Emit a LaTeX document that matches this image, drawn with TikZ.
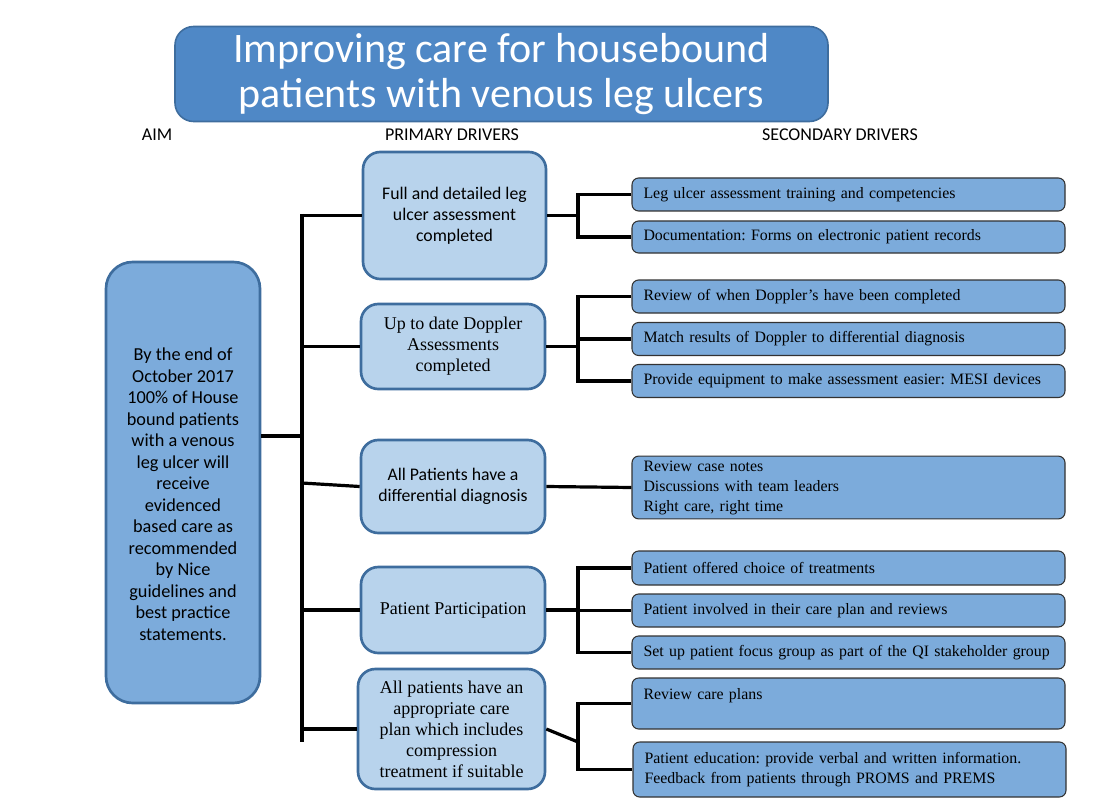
\documentclass[tikz,border=0pt]{standalone}
\usepackage{fontspec}
\setmainfont{Liberation Serif}
\newfontfamily\calibri{Carlito}
\usetikzlibrary{positioning, calc}
\definecolor{titleblue}{HTML}{4F88C6}
\definecolor{midblue}{HTML}{7CABDB}
\definecolor{paleblue}{HTML}{B8D3EC}
\definecolor{edgeblue}{HTML}{3E6D9E}
\newcommand{\px}{0.75pt}
\frenchspacing

\begin{document}
\begin{tikzpicture}[
            x=0.75pt, y=-0.75pt,
            titlebox/.style={rectangle, rounded corners=14pt, draw=edgeblue, line width=1.2pt, fill=titleblue, text=white, align=center, font=\calibri\fontsize{31.5}{34}\selectfont},
            aimbox/.style={rectangle, rounded corners=20pt, draw=edgeblue, line width=2pt, fill=midblue, align=center, font=\calibri\fontsize{13.7}{16.1}\selectfont},
            primary/.style={rectangle, rounded corners=13pt, draw=edgeblue, line width=2pt, fill=paleblue, align=center, font=\fontsize{13.5}{15.8}\selectfont},
            primarycal/.style={primary, font=\calibri\fontsize{13.3}{15.8}\selectfont},
            secondary/.style={rectangle, rounded corners=5pt, draw=black!80, line width=0.8pt, fill=midblue, minimum width=433*\px, text width=410*\px, align=left, font=\fontsize{11.9}{15}\selectfont},
            heading/.style={font=\calibri\fontsize{13.5}{15}\selectfont},
            link/.style={line width=2.4pt, black}
        ]
\useasboundingbox (0,0) rectangle (1112,809);

% Title
            \node[titlebox, minimum width=653*\px, minimum height=95*\px] (title) at (501.5,74) {Improving care for housebound\\patients with venous leg ulcers};

% Column headings
            \node[heading] (h_aim) at (157,135) {AIM};
            \node[heading] (h_primary) at (452,135) {PRIMARY DRIVERS};
            \node[heading] (h_secondary) at (840,135) {SECONDARY DRIVERS};

% Aim
            \node[aimbox, minimum width=154*\px, minimum height=441*\px] (aim) at (183,482.5) {\mbox{}\\[11pt]By the end of\\October 2017\\100\% of House\\bound patients\\with a venous\\leg ulcer will\\receive\\evidenced\\based care as\\recommended\\by Nice\\guidelines and\\best practice\\statements.};

% Primary drivers
            \node[primarycal, minimum width=183*\px, minimum height=127*\px] (full_assess) at (454.5,215.5) {Full and detailed leg\\ulcer assessment\\completed};
            \node[primary, minimum width=184*\px, minimum height=85*\px] (doppler) at (453,346.5) {Up to date Doppler\\Assessments\\completed};
            \node[primarycal, minimum width=184*\px, minimum height=93*\px] (diagnosis) at (453,486.5) {All Patients have a\\differential diagnosis};
            \node[primary, minimum width=184*\px, minimum height=86*\px] (participation) at (453,610) {Patient Participation};
            \node[primary, minimum width=187*\px, minimum height=120*\px] (care_plan) at (451.5,729) {All patients have an\\appropriate care\\plan which includes\\compression\\treatment if suitable};

% Secondary drivers
            \node[secondary, minimum height=33*\px] (training) at (848.5,194.5) {Leg ulcer assessment training and competencies};
            \node[secondary, minimum height=32*\px] (records) at (848.5,237) {Documentation: Forms on electronic patient records};
            \node[secondary, minimum height=33*\px] (review_doppler) at (848.5,296.5) {Review of when Doppler’s have been completed};
            \node[secondary, minimum height=33*\px] (match_results) at (848.5,339) {Match results of Doppler to differential diagnosis};
            \node[secondary, minimum height=33*\px] (equipment) at (848.5,381) {Provide equipment to make assessment easier: MESI devices};
            \node[secondary, minimum height=59*\px] (case_notes) at (848.5,487.5) {Review case notes\\Discussions with team leaders\\Right care, right time};
            \node[secondary, minimum height=34*\px] (choice) at (848.5,568) {Patient offered choice of treatments};
            \node[secondary, minimum height=33*\px] (involved) at (848.5,610.5) {Patient involved in their care plan and reviews};
            \node[secondary, minimum height=33*\px] (focus_group) at (848.5,652.5) {Set up patient focus group as part of the QI stakeholder group};
            \node[secondary, minimum height=51*\px] (review_plans) at (848.5,703.5) {Review care plans\\\mbox{}};
            \node[secondary, minimum height=55*\px] (education) at (849.5,769.5) {Patient education: provide verbal and written information.\\Feedback from patients through PROMS and PREMS};

% Trunk from the aim
            \coordinate (trunk_top) at (302,214);
            \coordinate (trunk_bot) at (302,742);
            \coordinate (trunk_aim) at (302,436);
            \coordinate (bracket) at (578,0);
            \draw[link] (trunk_top) -- (trunk_bot);
            \draw[link] (trunk_aim -| aim.east) -- (trunk_aim);

% Aim to primary drivers
            \draw[link] (full_assess.west -| trunk_top) -- (full_assess.west);
            \draw[link] (doppler.west -| trunk_top) -- (doppler.west);
            \draw[link] (302,483) -- (diagnosis.west);
            \draw[link] (participation.west -| trunk_top) -- (participation.west);
            \draw[link] (care_plan.west -| trunk_top) -- (care_plan.west);

% Primary to secondary drivers
            \draw[link] (full_assess.east) -- (full_assess.east -| bracket);
            \draw[link] (training.west) -- (training.west -| bracket) -- (records.west -| bracket) -- (records.west);

            \draw[link] (doppler.east) -- (doppler.east -| bracket);
            \draw[link] (review_doppler.west) -- (review_doppler.west -| bracket) -- (equipment.west -| bracket) -- (equipment.west);
            \draw[link] (match_results.west -| bracket) -- (match_results.west);

            \draw[link] (diagnosis.east) -- (case_notes.west);

            \draw[link] (participation.east) -- (participation.east -| bracket);
            \draw[link] (choice.west) -- (choice.west -| bracket) -- (focus_group.west -| bracket) -- (focus_group.west);
            \draw[link] (involved.west -| bracket) -- (involved.west);

            \draw[link] (care_plan.east) -- (578,742);
            \draw[link] (review_plans.west) -- (review_plans.west -| bracket) -- (education.west -| bracket) -- (education.west);

        \end{tikzpicture}
\end{document}
